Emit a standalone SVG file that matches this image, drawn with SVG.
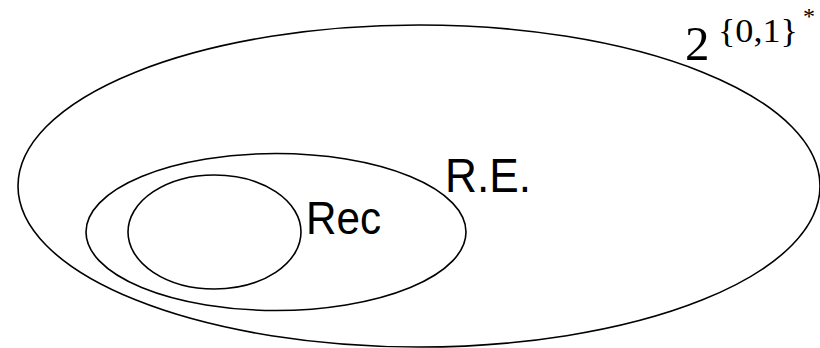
<svg xmlns="http://www.w3.org/2000/svg" width="820" height="348" viewBox="0 0 820 348">
<style>
.set{fill:none;stroke:#000;stroke-width:1.6}
.lbl{font-family:"Liberation Sans",Arial,sans-serif;fill:#000}
.math{font-family:"Liberation Serif","Times New Roman",serif;fill:#000}
</style>
<rect width="820" height="348" fill="#fff"/>
<g id="all">
<ellipse class="set" cx="419" cy="186" rx="401" ry="161"/>
<text class="math" x="685" y="60" font-size="49">2</text>
<text class="math" x="718" y="42" font-size="33" textLength="80" lengthAdjust="spacingAndGlyphs">{0,1}</text>
<text class="math" x="803" y="24" font-size="24">*</text>
</g>
<g id="re">
<ellipse class="set" cx="276" cy="232" rx="190" ry="78.5"/>
<text class="lbl" x="445" y="192" font-size="48" textLength="86" lengthAdjust="spacingAndGlyphs">R.E.</text>
</g>
<g id="rec">
<ellipse class="set" cx="214.5" cy="232" rx="86.5" ry="57"/>
<text class="lbl" x="306" y="234" font-size="46" textLength="75" lengthAdjust="spacingAndGlyphs">Rec</text>
</g>
<g id="connectors"/>
</svg>
